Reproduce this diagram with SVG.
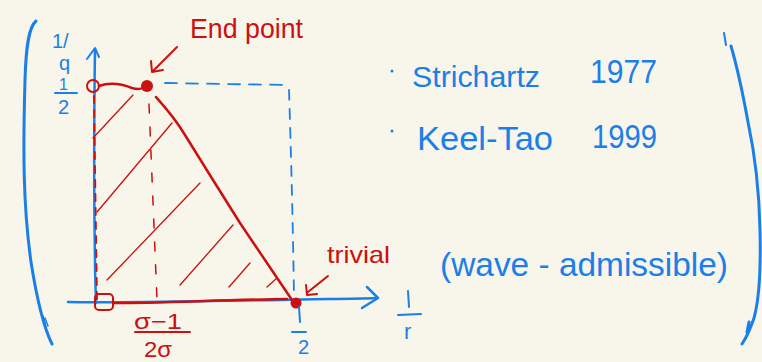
<svg xmlns="http://www.w3.org/2000/svg" width="762" height="362" viewBox="0 0 762 362">
<style>
.b{stroke:#1b7fe8;fill:none;stroke-linecap:round;stroke-linejoin:round}
.r{stroke:#cc0f0f;fill:none;stroke-linecap:round;stroke-linejoin:round}
.bt{fill:#1b7fe8;font-family:"Liberation Sans",Arial,sans-serif}
.rt{fill:#cc0f0f;font-family:"Liberation Sans",Arial,sans-serif}
</style>
<rect width="762" height="362" fill="#f8f5ea"/>

<!-- brackets -->
<g id="brackets">
<path class="b" stroke-width="3" d="M36,21 C29,27 26,45 25,80 C23,150 23,205 31,262 C37,300 44,328 52,344"/>
<path class="b" stroke-width="1.5" d="M43,316 L46,328 M45,318 L48,326"/>
<path class="b" stroke-width="2" d="M724,33 L726,45"/>
<path class="b" stroke-width="3" d="M731,46 C738,70 744,100 748,122 C754,150 759,180 760,230 C761,270 759,300 754,318 C750,330 746,338 742,344 M749,322 L747,332"/>
</g>

<!-- axes -->
<g id="axes">
<path class="b" stroke-width="2.5" d="M95,49 C94,120 94,200 95,260 C95,280 96,295 96,303"/>
<path class="b" stroke-width="2" d="M87,59 L95,48 L99,57"/>
<path class="b" stroke-width="2.5" d="M68,302 C120,303 200,301 280,300 C320,299 350,299 377,298"/>
<path class="b" stroke-width="2.5" d="M367,287 L378,298 L362,308"/>
<path class="b" stroke-width="1.8" stroke-dasharray="12,9" d="M165,83 L287,85"/>
<path class="b" stroke-width="1.8" stroke-dasharray="10,9" d="M289,90 C291,150 293,230 294,296"/>
</g>

<!-- region -->
<g id="region">
<path class="r" stroke-width="1.8" stroke-dasharray="7,7" d="M94,96 L97,300"/>
<path class="r" stroke-width="1.5" stroke-dasharray="9,14" d="M149,104 L157,300"/>
<path class="r" stroke-width="1.3" d="M133,95 L93,138 M172,123 L97,212 M200,183 L107,280 M233,225 L180,285 M250,263 L229,287 M277,278 L267,287"/>
<circle class="r" stroke-width="2" cx="93" cy="86" r="6"/>
<path class="r" stroke-width="2.5" d="M99,86 C110,82 122,84 132,88 C138,90 142,89 146,87"/>
<circle cx="147" cy="86" r="6" fill="#cc0f0f"/>
<path class="r" stroke-width="2.5" d="M156,97 C165,107 175,118 185,135 L213,180 L240,223 L292,300"/>
<rect class="r" stroke-width="2" x="95" y="294" width="18" height="16" rx="4"/>
<path class="r" stroke-width="2.5" d="M113,303 C160,303 220,300 287,299"/>
<circle cx="296" cy="303" r="5.5" fill="#cc0f0f"/>
</g>

<!-- annotations -->
<g id="endpoint-label">
<text class="rt" x="190" y="38" font-size="28" textLength="113" lengthAdjust="spacingAndGlyphs">End point</text>
<path class="r" stroke-width="2" d="M177,47 L152,72 M151,61 L152,72 L163,70"/>
</g>
<g id="trivial-label">
<text class="rt" x="327" y="263" font-size="24" textLength="63" lengthAdjust="spacingAndGlyphs">trivial</text>
<path class="r" stroke-width="2" d="M328,276 L308,292 M306,285 L307,295 L317,294"/>
</g>

<!-- axis labels -->
<g id="labels">
<text class="bt" font-size="20" x="52" y="48">1/</text>
<text class="bt" font-size="20" x="59" y="70">q</text>
<text class="bt" font-size="16" x="59" y="90">1</text>
<path class="b" stroke-width="2" d="M55,93 L77,93"/>
<text class="bt" font-size="20" x="58" y="114">2</text>

<text class="rt" font-size="22" x="134" y="329" textLength="48" lengthAdjust="spacingAndGlyphs">σ−1</text>
<path class="r" stroke-width="2" d="M135,332 L190,332"/>
<text class="rt" font-size="22" x="144" y="357" textLength="28" lengthAdjust="spacingAndGlyphs">2σ</text>

<path class="b" stroke-width="2" d="M299,307 L300,322 M292,332 L306,332"/>
<text class="bt" font-size="20" x="298" y="354">2</text>

<path class="b" stroke-width="2" d="M408,291 L409,307 M398,315 L421,314"/>
<text class="bt" font-size="22" x="404" y="339">r</text>
</g>

<g id="references">
<circle cx="392" cy="71" r="1.5" fill="#1b7fe8"/>
<text class="bt" font-size="30" x="412" y="87" textLength="128" lengthAdjust="spacingAndGlyphs">Strichartz</text>
<text class="bt" font-size="34" x="590" y="83" textLength="67" lengthAdjust="spacingAndGlyphs">1977</text>
<circle cx="392" cy="131" r="1.5" fill="#1b7fe8"/>
<text class="bt" font-size="34" x="417" y="150" textLength="136" lengthAdjust="spacingAndGlyphs">Keel-Tao</text>
<text class="bt" font-size="34" x="592" y="148" textLength="65" lengthAdjust="spacingAndGlyphs">1999</text>
<text class="bt" font-size="33" x="440" y="276" textLength="288" lengthAdjust="spacingAndGlyphs">(wave - admissible)</text>
</g>
</svg>
